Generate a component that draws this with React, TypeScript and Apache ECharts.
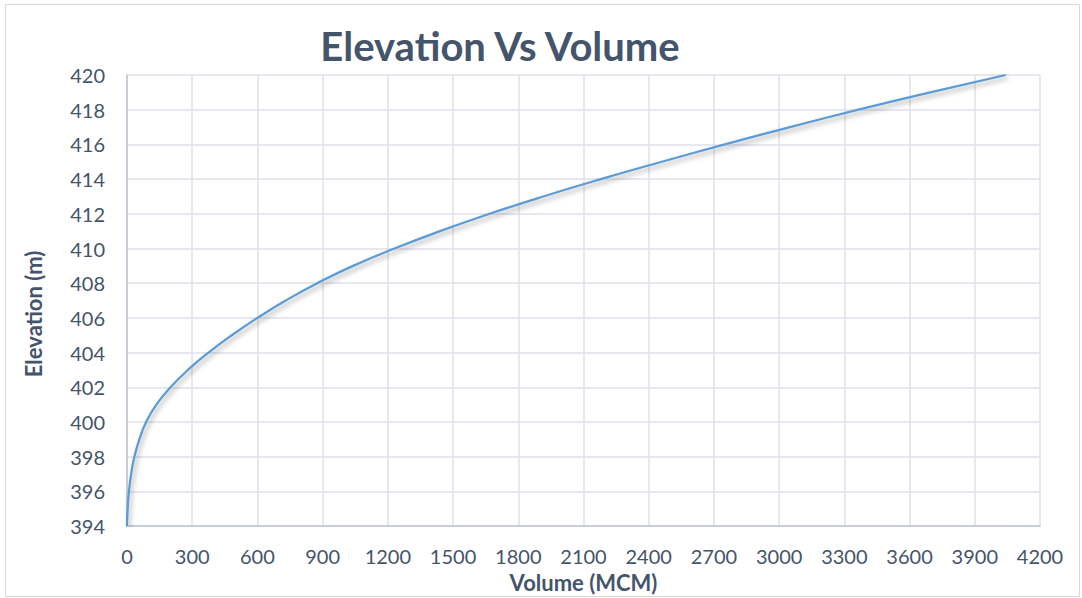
import React, { useEffect, useRef } from "react";
import * as echarts from "echarts";

const elevations = [394, 395, 396, 397, 398, 399, 400, 401, 402, 403, 404, 405, 406, 407, 408, 409, 410, 411, 412, 413, 414, 415, 416, 417, 418, 419, 420];
const volumes = [0, 3, 9, 19, 34, 57, 88, 135, 200, 280, 375, 482, 600, 730, 875, 1040, 1230, 1440, 1668, 1915, 2180, 2460, 2750, 3050, 3365, 3695, 4042];

const titleText = "Elevation Vs Volume";
const xName = "Volume (MCM)";
const yName = "Elevation (m)";

const FONT = "Lato, 'Open Sans', sans-serif";
const TXT = "#44546A";

export default function App() {
  const ref = useRef<HTMLDivElement>(null);
  useEffect(() => {
    const chart = echarts.init(ref.current!, null, { renderer: "svg" });
    chart.setOption({
      animation: false,
      backgroundColor: "#fff",
      textStyle: { fontFamily: FONT },
      title: {
        text: titleText,
        left: 495,
        top: 21,
        textAlign: "center",
        textStyle: { fontFamily: FONT, fontSize: 40, fontWeight: "bold", color: TXT },
      },
      graphic: [
        {
          type: "rect",
          shape: { x: 5.5, y: 4.5, width: 1074, height: 592 },
          style: { fill: "none", stroke: "#D9D9D9", lineWidth: 1 },
          silent: true,
        },
        {
          type: "text",
          x: 33,
          y: 314,
          rotation: Math.PI / 2,
          style: {
            text: yName,
            fontFamily: FONT,
            fontSize: 22,
            fontWeight: "bold",
            fill: TXT,
            align: "center",
            verticalAlign: "middle",
          },
          silent: true,
        },
      ],
      grid: { left: 127, right: 42, top: 75, bottom: 70, containLabel: false },
      xAxis: {
        type: "value",
        min: 0,
        max: 4200,
        interval: 300,
        name: xName,
        nameLocation: "middle",
        nameGap: 38,
        nameTextStyle: { fontFamily: FONT, fontSize: 22, fontWeight: "bold", color: TXT },
        axisLine: { show: true, lineStyle: { color: "#BFC5D0", width: 1.5 } },
        axisTick: { show: false },
        axisLabel: {
          fontFamily: FONT,
          fontSize: 20,
          color: TXT,
          margin: 20,
          formatter: (v: number) => String(v),
        },
        splitLine: { show: true, lineStyle: { color: "#DDE1E8", width: 1.5 } },
      },
      yAxis: {
        type: "value",
        min: 394,
        max: 420,
        interval: 2,
        axisLine: { show: true, lineStyle: { color: "#BFC5D0", width: 1.5 } },
        axisTick: { show: false },
        axisLabel: { fontFamily: FONT, fontSize: 20, color: TXT, margin: 22 },
        splitLine: { show: true, lineStyle: { color: "#DDE1E8", width: 1.5 } },
      },
      series: [
        {
          type: "line",
          data: volumes.map((v, i) => [v, elevations[i]]),
          smooth: 0.5,
          showSymbol: false,
          symbol: "none",
          lineStyle: {
            color: "#5B9BD5",
            width: 2.25,
            shadowColor: "rgba(0,0,0,0.35)",
            shadowBlur: 5,
            shadowOffsetX: 2,
            shadowOffsetY: 3,
          },
        },
      ],
    });
    return () => chart.dispose();
  }, []);
  return (
    <div
      ref={ref}
      style={{ position: "absolute", left: 0, top: 0, width: 1082, height: 598 }}
    />
  );
}
